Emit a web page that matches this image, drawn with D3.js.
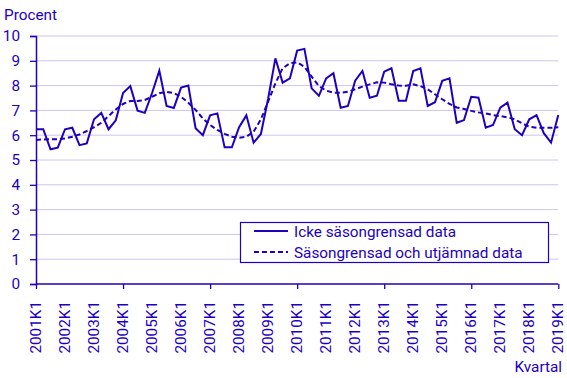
<!DOCTYPE html>
<html><head><meta charset="utf-8">
<script src="https://cdn.jsdelivr.net/npm/d3@7"></script>
<style>
html,body{margin:0;padding:0;background:#fff;}
text{font-family:Roboto,"Noto Sans",sans-serif;fill:#1e00be;}
</style></head><body>
<svg id="c" width="567" height="378"></svg>
<script>
const years = d3.range(2001, 2020);
const quarters = [];
years.forEach(y => [1,2,3,4].forEach(q => { if (y < 2019 || q === 1) quarters.push(y + "K" + q); }));
const raw = [6.24,6.24,5.43,5.5,6.24,6.3,5.6,5.67,6.64,6.9,6.24,6.6,
  7.7,7.98,6.99,6.9,7.7,8.6,7.18,7.1,7.92,8.0,6.28,6.0,
  6.8,6.88,5.51,5.51,6.32,6.8,5.7,6.05,7.47,9.1,8.12,8.29,
  9.41,9.48,7.89,7.59,8.29,8.5,7.11,7.18,8.2,8.59,7.51,7.59,
  8.56,8.7,7.39,7.39,8.59,8.7,7.18,7.33,8.19,8.29,6.5,6.61,
  7.55,7.51,6.3,6.41,7.11,7.31,6.24,6.0,6.64,6.81,6.08,5.7,6.81];
const smooth = [5.81,5.83,5.84,5.84,5.87,5.94,6.03,6.17,6.32,6.5,6.77,7.04,
  7.26,7.38,7.38,7.42,7.55,7.69,7.75,7.7,7.55,7.31,7.02,6.68,
  6.41,6.21,6.05,5.94,5.9,5.94,6.14,6.64,7.35,8.09,8.7,8.9,
  8.94,8.76,8.36,7.98,7.8,7.71,7.71,7.75,7.85,7.96,8.05,8.13,
  8.12,8.05,8.0,7.99,8.05,7.98,7.85,7.65,7.45,7.26,7.12,7.06,
  6.98,6.92,6.88,6.81,6.77,6.72,6.64,6.48,6.34,6.3,6.3,6.3,6.32];
const yTicks = d3.range(0, 11);
const xTickLabels = quarters.filter(q => q.endsWith("K1"));
const xAxisTicks = ["2001K1","2004K1","2007K1","2010K1","2013K1","2016K1","2019K1"];
const seriesNames = ["Icke säsongrensad data","Säsongrensad och utjämnad data"];

const C = "#1e00be", G = "#c8c8f0", FS = 15.3;
const svg = d3.select("#c");
const L = 36, R = 558.3, T = 36, B = 284;
const x = d3.scalePoint().domain(quarters).range([L, R]);
const y = d3.scaleLinear().domain([0, 10]).range([B, T]);

// gridlines
svg.append("g").selectAll("line").data(yTicks.filter(d => d > 0)).join("line")
  .attr("x1", L).attr("x2", R).attr("y1", d => y(d)).attr("y2", d => y(d))
  .attr("stroke", G).attr("stroke-width", 1);

// y axis
const ya = svg.append("g").attr("transform", `translate(${L},0)`)
  .call(d3.axisLeft(y).tickValues(yTicks).tickSize(6).tickPadding(10).tickFormat(d3.format("d")));
ya.select(".domain").attr("stroke", C).attr("stroke-width", 1.5);
ya.selectAll(".tick line").attr("stroke", C).attr("stroke-width", 1.3);
ya.selectAll("text").attr("font-size", FS).attr("fill", C).style("font-family", "Roboto");

// x axis
const xa = svg.append("g").attr("transform", `translate(0,${B})`)
  .call(d3.axisBottom(x).tickValues(xAxisTicks).tickSize(5).tickFormat(""));
xa.select(".domain").attr("stroke", C).attr("stroke-width", 1.5).attr("d", `M${L},0H${R}`);
xa.selectAll(".tick line").attr("stroke", C).attr("stroke-width", 1.3);
svg.append("g").selectAll("text").data(xTickLabels).join("text")
  .attr("transform", d => `translate(${x(d)+5},301) rotate(-90)`)
  .attr("text-anchor", "end").attr("font-size", FS).text(d => d);

// lines
const line = d3.line().x((d, i) => x(quarters[i])).y(d => y(d));
svg.append("path").datum(raw).attr("d", line).attr("fill", "none")
  .attr("stroke", C).attr("stroke-width", 2).attr("stroke-linejoin", "miter");
svg.append("path").datum(smooth).attr("d", line).attr("fill", "none")
  .attr("stroke", C).attr("stroke-width", 2).attr("stroke-dasharray", "5,3");

// titles
svg.append("text").attr("x", 4).attr("y", 20).attr("font-size", FS).text("Procent");
svg.append("text").attr("x", 562).attr("y", 372).attr("text-anchor", "end").attr("font-size", FS).text("Kvartal");

// legend
const lg = svg.append("g");
lg.append("rect").attr("x", 240.5).attr("y", 222.5).attr("width", 308).attr("height", 40)
  .attr("fill", "#fff").attr("stroke", C).attr("stroke-width", 1.2);
seriesNames.forEach((n, i) => {
  const yy = 231 + i * 21;
  lg.append("line").attr("x1", 254).attr("x2", 288).attr("y1", yy).attr("y2", yy)
    .attr("stroke", C).attr("stroke-width", 2).attr("stroke-dasharray", i ? "5,3" : null);
  lg.append("text").attr("x", 294).attr("y", yy + 5.5).attr("font-size", FS).text(n);
});
</script></body></html>
